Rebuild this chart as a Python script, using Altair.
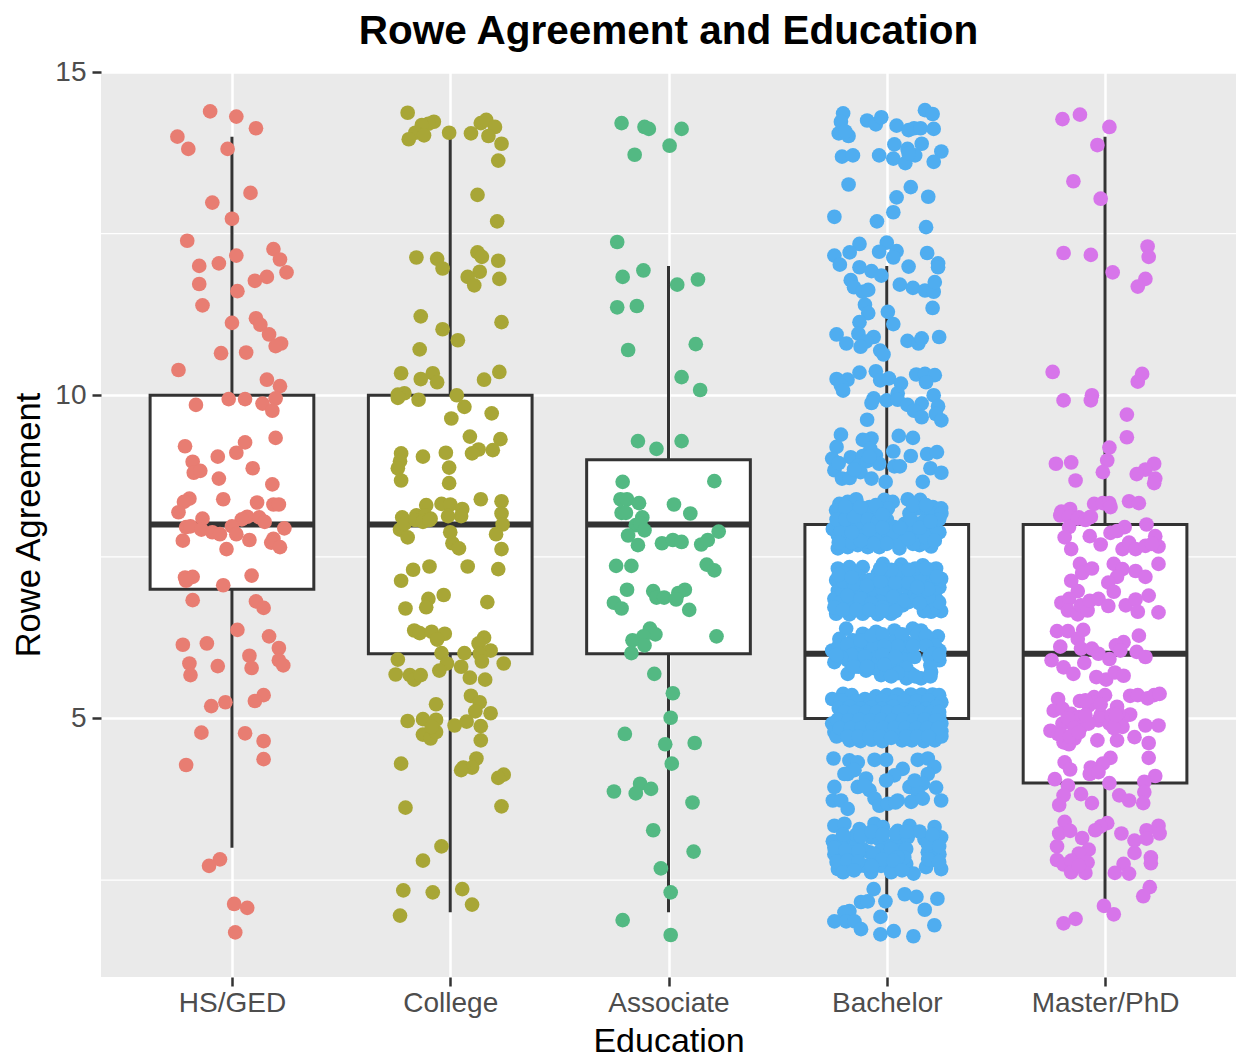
import json
import altair as alt
import pandas as pd

categories = ["HS/GED", "College", "Associate", "Bachelor", "Master/PhD"]
colors = ["#E87D72", "#A8A636", "#53B983", "#4FADF0", "#D775EA"]

q1 = [7, 6, 6, 5, 4]
median = [8, 8, 8, 6, 6]
q3 = [10, 10, 9, 8, 8]
whisker_low = [3, 2, 2, 2, 2]
whisker_high = [14, 14, 12, 12, 14]
y_ticks = [5, 10, 15]
y_minor = [2.5, 7.5, 12.5]
box_half_width = 0.375

# (horizontal jitter, Rowe Agreement)
hs_points = [
(-.10,14.39),(.02,14.31),(.11,14.13),(-.25,14.0),(-.20,13.81),(-.02,13.81),(.085,13.13),(-.09,12.98),(0,12.73),
(-.205,12.39),(.19,12.26),(.22,12.10),(.02,12.16),(-.15,12.0),(-.06,12.04),(.25,11.90),(.16,11.83),(.105,11.77),
(-.15,11.72),(.025,11.61),(-.135,11.39),(.11,11.19),(.13,11.09),(0,11.12),(.17,10.94),(.225,10.80),(.20,10.76),
(-.05,10.65),(.065,10.66),(-.245,10.39),(.16,10.24),(.22,10.14),(-.165,9.85),(-.015,9.94),(.06,9.94),(.20,9.95),
(.14,9.87),(.185,9.76),(.20,9.34),(-.215,9.21),(.06,9.27),(.02,9.11),(-.065,9.05),(-.18,8.97),(-.175,8.80),
(-.145,8.83),(.095,8.87),(-.06,8.71),(.185,8.62),(-.195,8.40),(-.22,8.35),(-.04,8.39),(.115,8.34),(.19,8.31),
(.215,8.31),(-.245,8.19),(-.135,8.09),(.07,8.12),(.045,8.08),(.125,8.11),(.15,8.04),(-.21,7.96),(-.19,7.97),
(-.14,7.92),(-.09,7.88),(-.055,7.85),(0,7.97),(.02,7.85),(.24,7.94),(.08,7.76),(-.225,7.75),(.19,7.78),(.18,7.72),
(.22,7.65),(-.025,7.62),(-.215,7.18),(-.18,7.19),(-.21,7.13),(.09,7.21),(-.04,7.06),(-.18,6.83),(.11,6.81),
(.145,6.71),(.025,6.37),(.17,6.27),(-.225,6.14),(-.115,6.16),(.215,6.09),(.08,5.97),(-.195,5.85),(.215,5.90),
(-.065,5.81),(.09,5.78),(.235,5.82),(-.19,5.67),(.145,5.36),(.105,5.27),(-.03,5.25),(-.095,5.19),(-.14,4.78),
(.06,4.77),(.145,4.65),(.145,4.37),(-.21,4.28),(-.055,2.82),(-.105,2.72),(.01,2.13),(.07,2.07),(.015,1.69),
]

college_points = [
(-.195,14.37),(-.075,14.23),(-.10,14.20),(-.13,14.18),(-.16,14.06),(-.12,14.02),(-.19,13.96),(-.005,14.06),
(.095,14.05),(.14,14.21),(.165,14.26),(.205,14.15),(.175,14.01),(.235,13.89),(.22,13.63),(.125,13.10),(.215,12.69),
(-.155,12.13),(-.06,12.11),(-.035,11.96),(.125,12.21),(.145,12.14),(.22,12.08),(.135,11.91),(.08,11.83),(.11,11.70),
(.225,11.80),(-.135,11.22),(.235,11.13),(-.035,11.02),(.035,10.85),(-.14,10.71),(-.225,10.34),(-.08,10.34),
(-.135,10.25),(-.06,10.20),(.225,10.36),(.155,10.24),(-.21,10.03),(-.24,10.01),(-.24,9.96),(-.145,9.93),(.03,10.0),
(.065,9.82),(.005,9.64),(.19,9.72),(.09,9.36),(.23,9.32),(.13,9.16),(.10,9.10),(.195,9.15),(-.225,9.10),(-.23,8.98),
(-.24,8.87),(-.125,9.05),(-.02,9.11),(-.005,8.88),(-.225,8.68),(-.005,8.64),(.14,8.39),(.235,8.36),(.235,8.17),
(-.11,8.30),(-.04,8.32),(0,8.31),(.055,8.24),(.05,8.13),(-.01,8.13),(-.22,8.11),(-.155,8.14),(-.115,8.14),(-.09,8.09),
(-.23,7.92),(-.195,7.80),(-.21,8.01),(-.16,8.07),(-.125,8.04),(-.095,8.07),(0,7.88),(.24,8.0),(.21,7.85),(.01,7.71),
(.04,7.63),(.235,7.62),(-.17,7.30),(-.095,7.35),(.08,7.35),(.22,7.31),(-.225,7.13),(-.03,6.91),(-.10,6.85),(-.11,6.72),
(-.205,6.70),(.17,6.80),(-.165,6.36),(-.14,6.32),(-.085,6.34),(-.025,6.31),(-.06,6.22),(.155,6.25),(.13,6.16),
(.185,6.05),(.135,6.0),(-.04,6.01),(.065,6.01),(-.24,5.91),(-.015,5.85),(.145,5.88),(.245,5.85),(-.05,5.74),(.05,5.80),
(-.25,5.68),(-.185,5.67),(-.165,5.60),(-.135,5.67),(.09,5.63),(.16,5.60),(.095,5.35),(.135,5.25),(-.065,5.22),
(.115,5.11),(.185,5.08),(-.125,4.99),(-.195,4.96),(-.065,4.98),(.075,4.95),(.02,4.89),(.14,4.88),(-.125,4.75),
(-.09,4.69),(-.065,4.79),(-.085,4.87),(.14,4.66),(-.225,4.30),(.12,4.38),(.10,4.24),(.06,4.24),(.05,4.20),(.245,4.13),
(.22,4.08),(-.205,3.62),(.235,3.64),(-.04,3.02),(-.125,2.80),(-.215,2.34),(-.08,2.31),(.055,2.36),(.10,2.12),(-.23,1.95),
]

associate_points = [
(-.215,14.21),(-.11,14.15),(-.09,14.12),(.06,14.12),(.005,13.86),(-.155,13.72),(-.235,12.37),(-.115,11.93),(-.21,11.83),
(.04,11.71),(.135,11.79),(-.145,11.38),(-.235,11.36),(-.185,10.70),(.125,10.79),(.06,10.28),(.145,10.08),(-.14,9.29),
(-.055,9.17),(.06,9.29),(-.21,8.66),(.21,8.67),(-.22,8.39),(-.19,8.39),(-.135,8.33),(-.215,8.18),(-.195,8.18),(.025,8.31),
(.10,8.17),(-.12,8.11),(-.15,7.99),(-.13,8.02),(-.11,7.91),(-.185,7.83),(-.14,7.68),(.23,7.89),(-.03,7.71),(.02,7.76),
(.06,7.73),(.15,7.69),(.18,7.76),(-.24,7.36),(-.17,7.36),(.175,7.38),(.21,7.29),(-.19,6.99),(-.07,6.97),(-.055,6.87),
(-.02,6.87),(.075,6.99),(.045,6.94),(.035,6.84),(-.25,6.79),(-.215,6.70),(.095,6.68),(-.085,6.39),(-.06,6.30),(-.115,6.27),
(-.165,6.21),(-.11,6.13),(.22,6.27),(-.17,6.01),(-.065,5.69),(.02,5.39),(.01,5.01),(-.2,4.76),(-.015,4.60),(.12,4.62),
(.015,4.30),(-.13,3.99),(-.25,3.87),(-.15,3.84),(-.08,3.91),(.11,3.70),(-.07,3.27),(.115,2.94),(-.035,2.68),(.01,2.31),
(-.21,1.88),(.01,1.65),
]

bachelor_points = [
(-.20,14.36),(-.21,14.23),(-.22,14.05),(-.175,14.01),(-.19,14.08),(-.09,14.25),(-.05,14.19),(-.025,14.30),(.175,14.41),(.21,14.35),
(.045,14.17),(.10,14.10),(.125,14.13),(.155,14.13),(.215,14.12),(.035,13.88),(.16,13.89),(.095,13.81),(-.205,13.69),
(-.155,13.71),(-.035,13.71),(.03,13.66),(.13,13.71),(.085,13.59),(.25,13.77),(.215,13.61),(.10,13.74),(-.175,13.26),(.11,13.22),
(.19,13.07),(.045,13.06),(.03,12.83),(-.24,12.76),(-.045,12.69),(.18,12.60),(-.125,12.34),(0,12.36),(-.17,12.21),
(-.24,12.16),(-.215,12.02),(-.035,12.22),(.045,12.23),(.03,12.13),(.185,12.2),(.10,11.99),(.235,12.04),(.235,11.98),
(-.125,11.98),(-.07,11.92),(-.025,11.85),(-.165,11.78),(-.15,11.67),(-.11,11.6),(-.085,11.63),(.06,11.71),(.12,11.66),
(.175,11.62),(.215,11.6),(.22,11.75),(-.10,11.4),(-.085,11.27),(.21,11.35),(.005,11.29),(.03,11.1),(-.125,11.13),
(-.23,10.94),(-.185,10.8),(-.13,10.95),(-.06,10.9),(-.095,10.83),(-.12,10.75),(.095,10.84),(.145,10.8),(.16,10.88),
(.24,10.9),(-.03,10.69),(-.015,10.63),(-.23,10.25),(-.18,10.24),(-.21,10.15),(-.20,10.07),(-.125,10.35),(-.05,10.37),
(-.03,10.23),(.01,10.26),(.065,10.18),(.135,10.32),(.175,10.33),(.22,10.31),(.18,10.2),(.05,10.03),(.215,10.0),
(-.06,9.95),(-.07,9.88),(0,9.92),(.05,9.93),(.095,9.85),(.16,9.87),(.125,9.76),(.16,9.66),(.235,9.83),(.225,9.71),
(.25,9.61),(-.09,9.62),(-.21,9.39),(-.07,9.33),(-.11,9.31),(.055,9.37),(.12,9.34),(-.23,9.2),(-.25,9.02),(-.24,8.84),
(-.075,9.17),(.03,9.13),(.11,9.06),(.185,9.09),(.23,9.12),(-.165,9.04),(-.11,9.06),(-.05,9.07),(-.035,8.94),(-.13,8.91),
(.035,8.9),(.06,8.9),(.20,8.87),(.25,8.8),(-.205,8.71),(-.17,8.72),(-.12,8.81),(-.07,8.71),(-.005,8.66),(.165,8.66),
(-.09,8.98),(-.08,9.05),(-.15,8.85),(-.22,8.95),
# band around 8
(-.217,8.32),(-.179,8.35),(-.14,8.39),(-.079,8.27),(-.011,8.38),(.027,8.35),(.096,8.39),(.153,8.38),(.211,8.27),(.249,8.25),
(-.232,8.22),(-.194,8.19),(-.156,8.22),(-.118,8.14),(-.072,8.17),(-.034,8.22),(.005,8.25),(.104,8.17),(.142,8.25),(.188,8.17),
(.226,8.14),(.25,8.17),(-.247,7.93),(-.209,8.01),(-.171,8.04),(-.134,7.95),(-.088,8.08),(-.041,8.04),(.0,8.08),(.035,7.96),
(.081,8.01),(.134,8.01),(.18,7.99),(.218,7.96),(.241,7.88),(-.224,7.83),(-.185,7.86),(-.14,7.83),(-.102,7.83),(-.056,7.86),
(-.011,7.88),(.058,7.86),(.104,7.88),(.142,7.86),(.188,7.83),(.226,7.88),(-.224,7.63),(-.179,7.65),(-.133,7.68),(-.087,7.65),
(-.034,7.65),(.058,7.63),(.15,7.68),(.203,7.66),(-.2,7.75),(-.16,7.72),(-.1,7.74),(-.05,7.75),(.01,7.78),(.04,7.8),(.06,7.72),
(.13,7.78),(.17,7.72),(-.21,7.9),(.12,7.95),
(-.23,8.08),(-.19,8.08),(-.15,8.12),(-.12,8.27),(-.19,8.28),(-.05,8.3),(.12,8.3),(.18,8.3),(.24,8.08),(.17,8.05),(.11,8.08),
(-.02,8.15),(.03,7.88),(0,7.7),(-.06,7.7),(-.12,7.75),(.12,7.7),(.18,7.8),(.22,7.75),(.1,7.78),(.15,7.95),(.2,8.05),
(-.16,7.88),(-.22,7.72),(-.08,7.92),(-.02,7.95),(.06,7.95),
# band around 7
(-.224,7.32),(-.171,7.34),(-.11,7.34),(-.018,7.39),(.066,7.38),(.165,7.37),(.226,7.32),(-.232,7.14),(-.179,7.16),(-.125,7.19),
(-.041,7.24),(.012,7.24),(.066,7.21),(.127,7.24),(.188,7.24),(.249,7.16),(-.224,6.98),(-.171,7.01),(-.11,7.06),(-.049,7.09),
(.005,7.06),(.066,7.06),(.127,7.09),(.18,7.09),(.241,7.03),(-.24,6.85),(-.186,6.85),(-.133,6.88),(-.072,6.88),(-.018,6.88),
(.043,6.9),(.104,6.9),(.226,6.85),(-.232,6.72),(-.171,6.75),(-.11,6.75),(-.049,6.72),(.012,6.72),(.073,6.75),(.188,6.75),
(.249,6.66),(-.232,6.62),(-.171,6.61),(-.11,6.62),(-.041,6.61),(.02,6.62),(.203,6.65),(-.2,6.95),(-.14,6.95),(-.08,6.95),
(-.02,7.0),(.04,7.0),(.1,7.0),(.16,7.12),(.21,6.98),(.21,7.18),(.15,7.18),(.09,7.15),(.03,7.15),(-.02,7.14),(-.08,7.14),
(-.15,7.25),(-.2,7.25),(.13,7.32),(.2,7.3),(.1,6.8),(.04,6.78),(-.03,6.8),(-.1,6.82),(-.16,6.8),(-.21,6.8),(.22,6.72),(.17,6.66),
(-.2,7.12),(-.15,7.08),(-.09,7.05),(-.03,7.12),(.04,7.1),(.1,7.1),(.22,7.1),(-.22,7.22),(-.16,7.18),(.05,7.3),(.1,7.3),
(.18,7.32),(.23,7.2),(.02,7.3),(-.03,7.32),(-.18,6.9),(-.12,6.85),(-.07,6.78),(-.02,6.72),(.03,6.88),(.08,6.82),(.22,6.95),
(.24,6.8),(-.24,6.72),(-.2,6.68),(-.14,6.68),(-.08,6.68),(-.02,6.66),(.04,6.66),
(.13,6.93),(.14,6.85),(.19,6.88),(.19,7.0),(.15,6.78),(.14,7.03),
# band around 6
(-.186,6.39),(-.11,6.31),(-.049,6.34),(.035,6.36),(.119,6.39),(.157,6.36),(.234,6.27),(-.217,6.23),(-.156,6.21),(-.095,6.15),
(-.026,6.21),(.027,6.18),(.088,6.18),(.15,6.21),(.203,6.21),(-.25,6.05),(-.202,6.05),(-.14,6.05),(-.079,6.0),(-.018,6.05),
(.043,6.05),(.104,6.02),(.241,6.05),(-.24,5.87),(-.179,5.9),(-.11,5.9),(-.049,5.87),(.012,5.9),(.073,5.92),(.127,5.95),
(.241,5.9),(.195,5.95),(-.179,5.69),(-.095,5.74),(-.026,5.67),(.066,5.72),(.157,5.62),(.203,5.72),(.112,5.69),(-.13,5.98),
(-.2,5.98),(-.06,5.78),(.0,5.75),(.05,5.82),(.09,5.78),(.2,5.82),(.23,5.97),(.22,6.13),(-.06,6.12),(-.13,5.8),(-.04,5.95),(.09,5.62),
(-.22,6.12),(-.18,6.14),(-.12,6.2),(-.07,6.28),(-.02,6.3),(.07,6.3),(.14,6.3),(.18,6.28),(.18,6.12),(.12,6.12),(.05,6.12),
(-.01,6.12),(-.16,5.98),(-.1,5.96),(-.02,5.98),(.04,5.95),(.21,6.0),(-.21,5.95),(-.23,5.98),(-.15,5.8),(-.09,5.8),(-.01,5.83),
(.05,5.7),(.02,5.65),(.13,5.65),(.2,5.65),(.24,5.98),
# band around 5
(-.2,5.38),(-.16,5.36),(-.1,5.3),(-.05,5.34),(0,5.36),(.05,5.37),(.11,5.37),(.16,5.37),(.21,5.37),(.24,5.36),(-.25,5.3),(-.21,5.28),
(-.14,5.27),(-.07,5.27),(-.02,5.28),(.03,5.26),(.08,5.28),(.135,5.27),(.19,5.28),(.25,5.25),(-.22,5.16),(-.17,5.18),(-.12,5.15),
(-.07,5.17),(-.02,5.15),(.03,5.18),(.08,5.14),(.13,5.17),(.18,5.15),(.23,5.18),(-.21,5.04),(-.16,5.03),(-.11,5.05),(-.06,5.03),
(-.01,5.05),(.04,5.03),(.09,5.05),(.14,5.03),(.19,5.05),(.24,5.03),(-.25,4.92),(-.2,4.9),(-.15,4.92),(-.1,4.9),(-.05,4.92),(0,4.9),
(.05,4.92),(.1,4.9),(.15,4.92),(.2,4.9),(.25,4.92),(-.24,4.79),(-.19,4.8),(-.14,4.79),(-.09,4.78),(-.04,4.8),(.01,4.79),(.06,4.78),
(.11,4.8),(.16,4.79),(.21,4.78),(.25,4.8),(-.17,4.66),(-.12,4.65),(-.07,4.67),(-.02,4.65),(.07,4.66),(.115,4.66),(.17,4.65),(.22,4.66),
(.25,4.72),(-.23,4.72),
(-.195,5.1),(-.145,5.1),(-.095,5.1),(-.045,5.1),(.005,5.1),(.055,5.1),(.105,5.1),(.155,5.1),(.205,5.1),(.24,5.1),
(-.225,4.98),(-.175,4.97),(-.125,4.98),(-.075,4.97),(-.025,4.98),(.025,4.97),(.075,4.98),(.125,4.97),(.175,4.98),(.225,4.97),
(-.215,4.85),(-.165,4.85),(-.115,4.85),(-.065,4.85),(-.015,4.85),(.035,4.85),(.085,4.85),(.135,4.85),(.185,4.85),(.235,4.85),
(-.18,4.72),(-.13,4.72),(-.08,4.72),(-.03,4.72),(.02,4.7),(.09,4.72),(.14,4.72),(.19,4.72),
# band around 4
(-.244,4.38),(-.171,4.35),(-.133,4.32),(-.056,4.36),(-.003,4.36),(.142,4.36),(.188,4.38),(.218,4.25),(-.179,4.14),(-.148,4.2),
(-.095,4.07),(.073,4.22),(.035,4.12),(-.003,4.04),(.188,4.14),(.165,3.99),(-.24,3.94),(-.133,3.94),(-.079,3.89),(.104,3.94),
(.142,3.86),(.226,3.93),(-.247,3.73),(-.209,3.73),(-.179,3.6),(-.056,3.76),(-.034,3.65),(.005,3.68),(.05,3.73),(.112,3.71),
(.165,3.76),(.249,3.73),(-.102,3.96),(-.194,4.14),(.128,4.04),(.04,3.7),
# band around 3
(-.24,3.34),(-.194,3.37),(-.125,3.29),(-.056,3.37),(-.018,3.32),(.05,3.26),(.104,3.34),(.219,3.32),(-.247,3.1),(-.194,3.13),
(-.14,3.06),(-.072,3.16),(-.034,3.13),(.043,3.1),(.096,3.16),(.173,3.13),(.249,3.16),(-.24,2.9),(-.186,2.9),(-.133,2.88),
(-.079,2.93),(-.011,3.06),(.058,2.96),(.089,2.98),(.188,2.93),(.241,2.9),(-.224,2.67),(-.171,2.7),(-.125,2.72),(-.072,2.62),
(-.026,2.72),(.043,2.72),(.089,2.75),(.123,2.6),(.18,2.7),(.249,2.67),(.188,3.06),(-.21,3.02),(-.21,2.8),(-.16,2.8),(-.11,2.98),
(-.05,2.8),(.0,2.85),(.02,2.62),(-.1,2.72),(-.14,3.2),(.2,2.8),(.15,3.25),
(-.2,3.2),(-.12,3.18),(-.07,3.25),(-.02,3.2),(.04,3.22),(.09,3.25),(.21,3.2),(.24,3.02),(-.24,3.0),(-.19,2.96),(-.13,2.95),
(-.03,2.95),(.02,2.98),(.08,2.85),(.05,2.85),(.19,2.82),(.24,2.78),(-.23,2.78),(-.18,2.8),(-.06,2.9),(-.02,2.82),(.03,2.8),
(-.13,2.78),(-.07,2.72),(.07,2.65),(-.2,2.62),(-.15,2.65),
# lower scatter
(-.06,2.36),(-.118,2.16),(-.087,2.17),(-.006,2.17),(.082,2.28),(.136,2.24),(.232,2.21),(.174,2.04),(-.029,1.93),(-.171,2.02),
(-.194,2.0),(-.24,1.86),(-.186,1.86),(-.148,1.86),(-.118,1.74),(.218,1.8),(-.029,1.66),(.032,1.71),(.122,1.63),
]

master_points = [
(-.195,14.27),(-.115,14.34),(.02,14.15),(-.035,13.87),(-.145,13.31),(-.02,13.04),(-.19,12.2),(-.065,12.17),(.195,12.3),(.2,12.14),
(.035,11.9),(.185,11.8),(.15,11.68),(-.24,10.36),(.17,10.33),(.15,10.21),(-.19,9.92),(-.06,10.0),(-.065,9.92),(.10,9.7),(.10,9.35),
(.02,9.19),(.01,8.99),(-.01,8.81),(-.225,8.94),(-.155,8.96),(-.135,8.68),(.225,8.94),(.185,8.85),(.145,8.78),(.23,8.71),(.225,8.64),
(-.05,8.32),(-.01,8.33),(.02,8.33),(.025,8.27),(.11,8.36),(.155,8.33),(-.2,8.2),(-.16,8.24),(-.12,8.11),(-.07,8.11),
(-.205,8.14),(-.165,8.12),(-.125,8.09),(-.09,8.07),(-.065,8.12),(-.165,7.96),(-.185,7.8),(-.155,7.62),(-.07,7.82),(-.02,7.69),
(.025,7.87),(.09,7.96),(.19,8.0),(.055,7.9),(.23,7.82),(.245,7.66),(.08,7.62),(.11,7.72),(.14,7.62),(.185,7.67),(.215,7.7),
(-.115,7.39),(-.105,7.25),(-.06,7.32),(.04,7.39),(.08,7.31),(.055,7.19),(.245,7.39),(.14,7.28),(.185,7.19),(-.155,7.13),(.015,7.1),
(.04,6.96),(-.125,6.97),(.2,6.9),(-.2,6.79),(-.165,6.85),(-.17,6.67),(-.125,6.61),(-.11,6.75),(-.08,6.67),(-.07,6.82),(-.03,6.85),
(.015,6.74),(.095,6.75),(.14,6.84),(.15,6.65),(.245,6.64),(-.22,6.35),(-.17,6.35),(-.10,6.37),(-.125,6.23),(-.11,6.08),(-.205,6.11),
(.155,6.28),(.085,6.18),(.05,6.13),(.07,6.05),(-.06,6.08),(-.03,6.0),(.02,5.92),(.145,6.03),(.185,5.95),(-.245,5.9),(-.19,5.79),
(-.145,5.69),(-.095,5.86),(-.04,5.64),(.005,5.6),(.045,5.71),(.085,5.66),(-.215,5.3),(-.235,5.12),(-.115,5.27),(-.075,5.2),(-.05,5.33),
(0,5.36),(.115,5.35),(.15,5.36),(.195,5.31),(.225,5.36),(.25,5.38),(.055,5.18),(.115,5.06),(-.195,5.15),(-.155,5.07),(-.12,5.02),
(-.03,4.97),(.02,4.92),(.08,5.0),(.05,4.97),(-.195,4.92),(-.25,4.81),(-.215,4.76),(-.11,4.87),(-.075,4.92),(-.14,4.69),(-.19,4.63),
(-.165,4.6),(.08,4.87),(.055,4.66),(-.035,4.66),(.185,4.89),(.245,4.89),(.135,4.71),(.2,4.62),(.2,4.39),(-.185,4.32),(-.16,4.21),
(.025,4.39),(-.01,4.3),(-.065,4.24),(-.07,4.14),(-.03,4.17),(.02,4.0),(.23,4.11),(-.23,4.06),(-.17,3.96),(.18,4.02),(.18,3.86),
(-.19,3.81),(-.21,3.66),(-.11,3.83),(-.06,3.69),(.065,3.81),(.11,3.73),(.175,3.69),(.01,3.38),(-.02,3.33),(-.045,3.27),(-.185,3.4),
(-.21,3.22),(-.16,3.26),(-.105,3.15),(.075,3.22),(.135,3.11),(.19,3.27),(.245,3.34),(.25,3.22),(.19,3.14),(-.22,3.02),(-.075,2.97),
(.135,2.92),(-.12,2.91),(.21,2.85),(.21,2.76),(-.22,2.81),(-.19,2.74),(-.155,2.8),(-.08,2.77),(-.155,2.62),(-.09,2.61),(-.12,2.72),
(.085,2.75),(.045,2.61),(.11,2.6),(.205,2.39),(.175,2.25),(-.005,2.1),(.04,1.97),(-.135,1.9),(-.19,1.83),
(-.17,5.0),(-.14,4.85),(-.2,4.75),(-.16,4.72),(-.12,4.78),(-.09,5.05),(-.02,5.05),(.03,5.05),(.06,5.08),(.04,4.85),(-.05,5.25),
(-.02,5.22),(-.09,5.28),(.05,5.05),
]

all_points = [hs_points, college_points, associate_points, bachelor_points, master_points]

point_rows = []
for i, (cat, pts) in enumerate(zip(categories, all_points), 1):
    for dx, v in pts:
        point_rows.append({"pos": i + dx, "value": v, "Education": cat})
points_df = pd.DataFrame(point_rows)

box_df = pd.DataFrame({
    "pos": list(range(1, 6)),
    "left": [i - box_half_width for i in range(1, 6)],
    "right": [i + box_half_width for i in range(1, 6)],
    "q1": q1, "median": median, "q3": q3,
    "low": whisker_low, "high": whisker_high,
})

x_scale = alt.Scale(domain=[0.4, 5.6], nice=False, zero=False)
y_scale = alt.Scale(domain=[1, 15], nice=False, zero=False)
font = "Liberation Sans"
label_expr = json.dumps(categories) + "[datum.value - 1]"

x_axis = alt.Axis(
    values=[1, 2, 3, 4, 5], labelExpr=label_expr, title="Education",
    grid=True, gridColor="white", gridWidth=2.5, domain=False,
    tickColor="#333333", tickWidth=2.5, tickSize=9,
    labelFont=font, labelFontSize=28, labelColor="#4D4D4D", labelPadding=3,
    titleFont=font, titleFontSize=34, titleFontWeight="normal", titleColor="black", titlePadding=7,
)
y_axis = alt.Axis(
    values=y_ticks, title="Rowe Agreement",
    grid=True, gridColor="white", gridWidth=2.5, domain=False,
    tickColor="#333333", tickWidth=2.5, tickSize=9,
    labelFont=font, labelFontSize=28, labelColor="#4D4D4D", labelPadding=6,
    titleFont=font, titleFontSize=34.5, titleFontWeight="normal", titleColor="black", titlePadding=8,
)

minor = alt.Chart(pd.DataFrame({"value": y_minor})).mark_rule(color="white", strokeWidth=1.2).encode(
    y=alt.Y("value:Q", scale=y_scale, axis=y_axis),
)
whisker = alt.Chart(box_df).mark_rule(color="#333333", strokeWidth=3).encode(
    x=alt.X("pos:Q", scale=x_scale, axis=x_axis),
    y=alt.Y("low:Q", scale=y_scale, axis=y_axis),
    y2="high:Q",
)
box = alt.Chart(box_df).mark_rect(fill="white", stroke="#333333", strokeWidth=3).encode(
    x=alt.X("left:Q", scale=x_scale, axis=x_axis),
    x2="right:Q",
    y=alt.Y("q1:Q", scale=y_scale, axis=y_axis),
    y2="q3:Q",
)
med = alt.Chart(box_df).mark_rule(color="#333333", strokeWidth=6).encode(
    x=alt.X("left:Q", scale=x_scale, axis=x_axis),
    x2="right:Q",
    y=alt.Y("median:Q", scale=y_scale, axis=y_axis),
)
dots = alt.Chart(points_df).mark_circle(size=215, opacity=1).encode(
    x=alt.X("pos:Q", scale=x_scale, axis=x_axis),
    y=alt.Y("value:Q", scale=y_scale, axis=y_axis),
    color=alt.Color("Education:N", scale=alt.Scale(domain=categories, range=colors), legend=None),
)

chart = (
    alt.layer(minor, whisker, box, med, dots)
    .properties(
        width=1135, height=905,
        padding={"left": 3, "top": 3, "right": 1, "bottom": 0},
        title=alt.TitleParams(
            "Rowe Agreement and Education", font=font, fontSize=40.5, fontWeight="bold",
            color="black", anchor="middle", frame="group", offset=6,
        ),
    )
    .configure_view(fill="#EAEAEA", stroke=None)
)

chart.save("out.html", embed_options={"renderer": "svg", "actions": False})
